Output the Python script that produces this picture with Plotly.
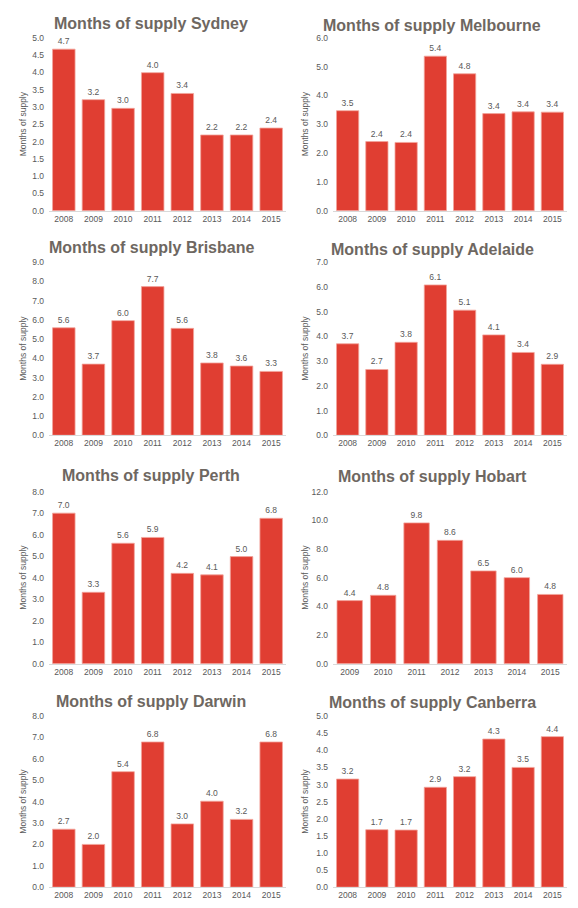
import plotly.graph_objects as go

# ---------------- data ----------------
years = ["2008", "2009", "2010", "2011", "2012", "2013", "2014", "2015"]
hobart_years = ["2009", "2010", "2011", "2012", "2013", "2014", "2015"]

cities = ["Sydney", "Melbourne", "Brisbane", "Adelaide", "Perth", "Hobart", "Darwin", "Canberra"]

sydney = [4.67, 3.21, 2.96, 3.99, 3.39, 2.19, 2.19, 2.39]
melbourne = [3.47, 2.40, 2.37, 5.36, 4.75, 3.37, 3.43, 3.42]
brisbane = [5.59, 3.70, 5.96, 7.73, 5.56, 3.76, 3.60, 3.32]
adelaide = [3.70, 2.66, 3.76, 6.08, 5.06, 4.06, 3.35, 2.87]
perth = [7.00, 3.32, 5.60, 5.87, 4.20, 4.13, 4.98, 6.76]
hobart = [4.40, 4.77, 9.82, 8.60, 6.47, 6.00, 4.83]
darwin = [2.71, 2.00, 5.40, 6.79, 2.96, 4.02, 3.17, 6.79]
canberra = [3.16, 1.68, 1.67, 2.92, 3.23, 4.33, 3.50, 4.40]

series = [sydney, melbourne, brisbane, adelaide, perth, hobart, darwin, canberra]
categories = [years, years, years, years, years, hobart_years, years, years]

# axis ranges / steps (y max, dtick)
y_axes = [(5, 0.5), (6, 1), (9, 1), (7, 1), (8, 1), (12, 2), (8, 1), (5, 0.5)]

# ---------------- layout geometry (page pixels) ----------------
OFF = 8  # default body margin of the html page
W, H = 578 - OFF, 908 - OFF
col_px = [(49, 286), (333, 567)]
row_px = [(33, 208), (260, 435), (492, 666), (719, 892)]
title_y_px = [19, 21, 245, 247, 476, 477, 704, 705]
title_x_px = [151, 432]
ytitle_x_px = [23, 305]


def px_x(p):
    return (p - OFF) / W


def px_y(p):
    return 1 - (p - OFF) / H


BAR = "#E03E32"
TXT = "#595959"
TITLE = "#6E6761"
FONT = "Liberation Sans, Arial, sans-serif"

fig = go.Figure()
annotations = []
layout = dict(
    width=W, height=H,
    margin=dict(l=0, r=0, t=0, b=0),
    paper_bgcolor="white", plot_bgcolor="white",
    showlegend=False,
    bargap=0.24,
    font=dict(family=FONT, size=8.5, color=TXT),
)

for i, (city, vals, cats) in enumerate(zip(cities, series, categories)):
    r, c = divmod(i, 2)
    x0, x1 = col_px[c]
    y0, y1 = row_px[r]
    n = i + 1
    xa = "x" if n == 1 else f"x{n}"
    ya = "y" if n == 1 else f"y{n}"
    fig.add_trace(go.Bar(
        x=cats, y=vals, xaxis=xa, yaxis=ya,
        marker=dict(color=BAR, line=dict(color="#F2A49C", width=0.8)),
        text=[f"{v:.1f}" for v in vals],
        textposition="outside",
        textfont=dict(size=8.5, color=TXT, family=FONT),
        cliponaxis=False,
        hoverinfo="x+y",
    ))
    ymax, dt = y_axes[i]
    layout[f"xaxis{'' if n == 1 else n}"] = dict(
        domain=[px_x(x0), px_x(x1)], anchor=ya, type="category",
        showline=True, linecolor="#D9D9D9", linewidth=1,
        showgrid=False, ticks="", zeroline=False,
        tickfont=dict(size=8.5, color=TXT, family=FONT),
        fixedrange=True,
    )
    layout[f"yaxis{'' if n == 1 else n}"] = dict(
        domain=[px_y(y1), px_y(y0)], anchor=xa,
        range=[0, ymax], dtick=dt, tick0=0, tickformat=".1f",
        showgrid=False, showline=False, zeroline=False, ticks="",
        tickfont=dict(size=8.5, color=TXT, family=FONT),
        ticklabelstandoff=4,
        fixedrange=True,
    )
    annotations.append(dict(
        text=f"Months of supply {city}", xref="paper", yref="paper",
        x=px_x(title_x_px[c]), y=px_y(title_y_px[i]),
        xanchor="center", yanchor="middle", showarrow=False,
        font=dict(family=FONT, size=16, color=TITLE, weight="bold"),
    ))
    annotations.append(dict(
        text="Months of supply", xref="paper", yref="paper",
        x=px_x(ytitle_x_px[c]), y=px_y((y0 + y1) / 2),
        xanchor="center", yanchor="middle", showarrow=False, textangle=-90,
        font=dict(family=FONT, size=8.5, color=TXT),
    ))

layout["annotations"] = annotations
fig.update_layout(**layout)
fig.write_html("out.html")
